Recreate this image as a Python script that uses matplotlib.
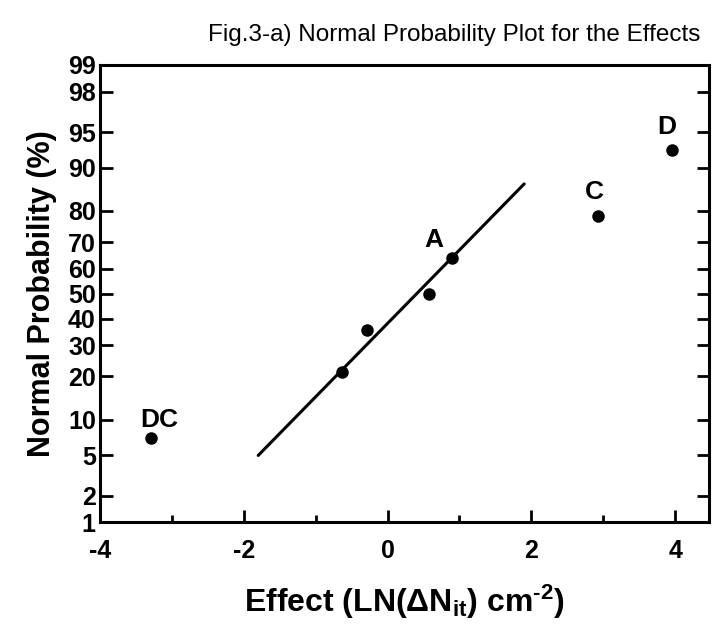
import numpy as np
import matplotlib
matplotlib.use("Agg")
import matplotlib.pyplot as plt
from statistics import NormalDist

plt.rcParams['font.family'] = ['Liberation Sans', 'DejaVu Sans']
plt.rcParams['axes.unicode_minus'] = False
plt.rcParams['mathtext.fontset'] = 'custom'
plt.rcParams['mathtext.rm'] = 'Liberation Sans:bold'
plt.rcParams['mathtext.it'] = 'Liberation Sans:bold'
plt.rcParams['mathtext.bf'] = 'Liberation Sans:bold'

# Data
effects = [-3.29, -0.63, -0.29, 0.58, 0.90, 2.93, 3.96]
probs = [7.14, 21.43, 35.71, 50.0, 64.29, 78.57, 92.86]
point_labels = ['DC', '', '', '', 'A', 'C', 'D']
fit_x = [-1.8, 1.9]
fit_p = [5.0, 86.8]
yticks = [1, 2, 5, 10, 20, 30, 40, 50, 60, 70, 80, 90, 95, 98, 99]
xticks = [-4, -2, 0, 2, 4]
xminor = [-3, -1, 1, 3]

_nd = NormalDist()
_ppf = np.vectorize(lambda v: _nd.inv_cdf(min(max(v, 1e-6), 100 - 1e-6) / 100.0), otypes=[float])
_cdf = np.vectorize(lambda v: _nd.cdf(v) * 100.0, otypes=[float])
def _fwd(p):
    return _ppf(np.asarray(p, dtype=float))
def _inv(z):
    return _cdf(np.asarray(z, dtype=float))

fig = plt.figure(figsize=(7.17, 6.31), dpi=100)
ax = fig.add_axes([0.1395, 0.172, 0.8493, 0.725])
ax.set_yscale('function', functions=(_fwd, _inv))

ax.plot(fit_x, fit_p, color='black', lw=2.2, solid_capstyle='round')
ax.plot(effects, probs, 'o', color='black', ms=8)

offsets = {'DC': (6, 13), 'A': (-13, 13), 'C': (-3, 17), 'D': (-4, 16)}
for x, p, lab in zip(effects, probs, point_labels):
    if lab:
        ax.annotate(lab, (x, p), xytext=offsets[lab], textcoords='offset points',
                    ha='center', va='center', fontsize=19, fontweight='bold')

ax.set_xlim(-4, 4.47)
ax.set_ylim(1, 99)
ax.set_xticks(xticks)
ax.set_xticks(xminor, minor=True)
ax.set_yticks(yticks)
ax.set_yticklabels([str(t) for t in yticks])
ax.yaxis.set_minor_locator(matplotlib.ticker.NullLocator())
ax.tick_params(axis='both', which='major', direction='in', length=9, width=2,
               labelsize=18, right=True, top=False)
ax.tick_params(axis='x', which='minor', direction='in', length=5, width=2, top=False)
ax.tick_params(axis='x', pad=12)
ax.tick_params(axis='y', pad=3)
for lbl in ax.get_xticklabels() + ax.get_yticklabels():
    lbl.set_fontweight('bold')
for s in ax.spines.values():
    s.set_linewidth(2.2)

ax.set_xlabel(r'Effect (LN($\Delta$N$_{\rm it}$) cm$^{\text{-2}}$)', fontsize=23, labelpad=14,
              fontweight='bold')
ax.set_ylabel('Normal Probability (%)', fontsize=22, labelpad=8, fontweight='bold')
fig.text(0.633, 0.945, 'Fig.3-a) Normal Probability Plot for the Effects', ha='center',
         va='center', fontsize=17.5)

fig.savefig('out.png', dpi=100)
